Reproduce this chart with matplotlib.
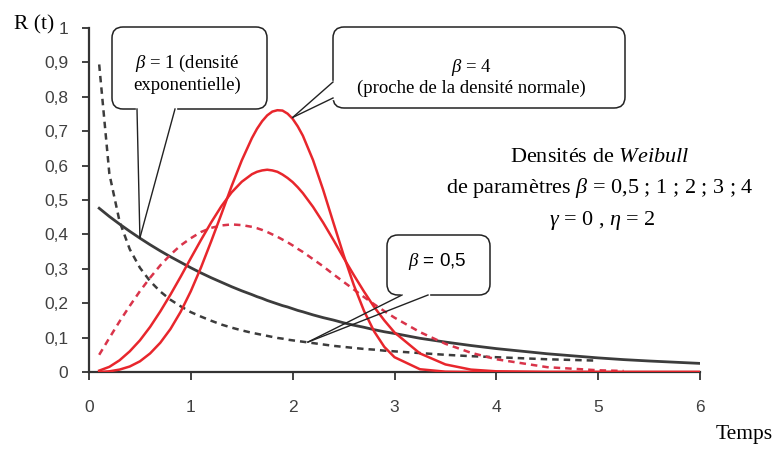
import numpy as np
import matplotlib
matplotlib.use("Agg")
import matplotlib.pyplot as plt
from matplotlib.patches import FancyBboxPatch
from matplotlib.transforms import Affine2D

nan = np.nan

# Time axis (Temps)
t = [0.1, 0.2, 0.3, 0.4, 0.5, 0.6, 0.7, 0.8, 0.9, 1.0,
     1.1, 1.2, 1.3, 1.4, 1.5, 1.6, 1.65, 1.7, 1.75, 1.8, 1.85, 1.9, 1.95, 2.0, 2.05,
     2.1, 2.2, 2.3, 2.4, 2.5, 2.6, 2.7, 2.8, 2.9, 3.0,
     3.25, 3.5, 3.75, 4.0, 4.5, 5.0, 5.25, 5.5, 6.0]

# Weibull densities, gamma = 0, eta = 2
beta_05 = [0.894, 0.576, 0.438, 0.357, 0.303, 0.264, 0.234, 0.210, 0.191, 0.174,
           0.161, 0.149, 0.138, 0.129, 0.121, 0.114, 0.111, 0.108, 0.105, 0.102,
           0.099, 0.097, 0.094, 0.092, 0.090,
           0.088, 0.084, 0.080, 0.076, 0.073, 0.070, 0.067, 0.065, 0.062, 0.060,
           0.055, 0.050, 0.046, 0.043, 0.037, 0.033, nan, nan, nan]
beta_1 = [0.476, 0.452, 0.430, 0.409, 0.389, 0.370, 0.352, 0.335, 0.319, 0.303,
          0.288, 0.274, 0.261, 0.248, 0.236, 0.225, 0.219, 0.214, 0.208, 0.203,
          0.198, 0.193, 0.189, 0.184, 0.179,
          0.175, 0.166, 0.158, 0.151, 0.143, 0.136, 0.130, 0.123, 0.117, 0.112,
          0.098, 0.087, 0.077, 0.068, 0.053, 0.041, 0.036, 0.032, 0.025]
beta_2 = [0.050, 0.099, 0.147, 0.192, 0.235, 0.274, 0.310, 0.341, 0.368, 0.389,
          0.407, 0.419, 0.426, 0.429, 0.427, 0.422, 0.418, 0.413, 0.407, 0.400,
          0.393, 0.385, 0.377, 0.368, 0.358,
          0.349, 0.328, 0.307, 0.284, 0.262, 0.240, 0.218, 0.197, 0.177, 0.158,
          0.116, 0.082, 0.056, 0.037, 0.014, 0.005, 0.003, nan, nan]
beta_3 = [0.004, 0.015, 0.034, 0.060, 0.092, 0.131, 0.176, 0.225, 0.277, 0.331,
          0.384, 0.435, 0.482, 0.522, 0.553, 0.575, 0.582, 0.586, 0.588, 0.586,
          0.582, 0.574, 0.564, 0.552, 0.537,
          0.520, 0.480, 0.434, 0.384, 0.332, 0.282, 0.234, 0.189, 0.150, 0.115,
          0.054, 0.022, 0.007, 0.002, 0.000, 0.000, 0.000, 0.000, 0.000]
beta_4 = [0.000, 0.002, 0.007, 0.016, 0.031, 0.054, 0.085, 0.125, 0.175, 0.235,
          0.304, 0.380, 0.459, 0.540, 0.615, 0.680, 0.707, 0.729, 0.746, 0.757,
          0.761, 0.760, 0.751, 0.736, 0.714,
          0.687, 0.616, 0.529, 0.434, 0.340, 0.253, 0.178, 0.118, 0.073, 0.043,
          0.008, 0.001, 0.000, 0.000, 0.000, 0.000, 0.000, 0.000, 0.000]

x_ticks = [0, 1, 2, 3, 4, 5, 6]
y_ticks = [0, 0.1, 0.2, 0.3, 0.4, 0.5, 0.6, 0.7, 0.8, 0.9, 1]
y_tick_labels = ["0", "0,1", "0,2", "0,3", "0,4", "0,5", "0,6", "0,7", "0,8", "0,9", "1"]

plt.rcParams["mathtext.fontset"] = "custom"
plt.rcParams["mathtext.rm"] = "Liberation Serif"
plt.rcParams["mathtext.it"] = "Liberation Serif:italic"

W, H = 776, 449
fig = plt.figure(figsize=(W / 100, H / 100), dpi=100)
ax = fig.add_axes([89 / W, (H - 372) / H, 611 / W, 344 / H])

RED = "#e8262c"
RED_D = "#d9344a"
DARK = "#3c3c3c"

ax.plot(t, beta_05, color=DARK, lw=1.8, dashes=(2.6, 2.0), zorder=3)
ax.plot(t, beta_1, color=DARK, lw=2.0, zorder=3)
ax.plot(t, beta_2, color=RED_D, lw=1.8, dashes=(2.6, 2.0), zorder=3)
ax.plot(t, beta_3, color=RED, lw=1.8, zorder=4)
ax.plot(t, beta_4, color=RED, lw=1.8, zorder=4)

ax.set_xlim(0, 6)
ax.set_ylim(0, 1)
ax.set_xticks(x_ticks)
ax.set_yticks(y_ticks)
ax.set_yticklabels(y_tick_labels)
for s in ("top", "right"):
    ax.spines[s].set_visible(False)
for s in ("left", "bottom"):
    ax.spines[s].set_linewidth(1.6)
    ax.spines[s].set_color("#333333")
ax.tick_params(axis="x", direction="out", length=6, width=1.3, pad=14,
               color="#333333", labelsize=12.5, labelcolor="#404040")
ax.tick_params(axis="y", direction="out", length=5, width=1.3, pad=10,
               color="#333333", labelsize=12.5, labelcolor="#404040")
for lab in ax.get_xticklabels() + ax.get_yticklabels():
    lab.set_family(["Liberation Sans Narrow", "Liberation Sans", "DejaVu Sans"])

# pixel frame with origin at the top-left corner
px = Affine2D().scale(1, -1).translate(0, H)
serif = ["Liberation Serif", "DejaVu Serif"]

fig.text(14, 25, "R (t)", transform=px, family=serif, fontsize=15.5,
         va="center", ha="left")
fig.text(773, 435, "Temps", transform=px, family=serif, fontsize=15.5,
         va="center", ha="right")


def callout(x0, y0, x1, y1, base_a, base_b, tip_data, lines, fs, family):
    box = FancyBboxPatch((x0, y0), x1 - x0, y1 - y0,
                         boxstyle="round,pad=0,rounding_size=11",
                         transform=px, facecolor="white", edgecolor="#222222",
                         lw=1.1, zorder=8)
    fig.add_artist(box)
    # open the outline where the pointer leaves the box
    fig.add_artist(plt.Line2D([base_a[0], base_b[0]], [base_a[1], base_b[1]],
                              transform=px, color="white", lw=2.4, zorder=9))
    tip_disp = ax.transData.transform(tip_data)
    tip = px.inverted().transform(tip_disp)
    for b in (base_a, base_b):
        fig.add_artist(plt.Line2D([b[0], tip[0]], [b[1], tip[1]], transform=px,
                                  color="#222222", lw=1.0, zorder=10))
    for txt, (tx, ty) in lines:
        fig.text(tx, ty, txt, transform=px, family=family, fontsize=fs,
                 ha="center", va="center", zorder=11)


callout(112, 27, 267, 109, (137, 109), (175, 109), (0.5, 0.39),
        [(r"$\beta$ = 1 (densité", (187, 63)), ("exponentielle)", (187, 85))],
        13.5, serif)
callout(333, 27, 625, 108, (333, 82), (333, 98), (2.0, 0.74),
        [(r"$\beta$ = 4", (471, 67)), ("(proche de la densité normale)", (471, 88))],
        13.5, serif)
callout(387, 235, 490, 295, (402, 295), (428, 295), (2.15, 0.087),
        [(r"$\beta$ = 0,5", (437, 262))],
        13.5, ["Liberation Sans Narrow", "Liberation Sans", "DejaVu Sans"])

fig.text(600, 157, r"Densités de $\mathit{Weibull}$", transform=px,
         family=serif, fontsize=16, ha="center", va="center")
fig.text(600, 188, r"de paramètres $\beta$ = 0,5 ; 1 ; 2 ; 3 ; 4", transform=px,
         family=serif, fontsize=16, ha="center", va="center")
fig.text(602, 221, r"$\gamma$ = 0 , $\eta$ = 2", transform=px,
         family=serif, fontsize=16, ha="center", va="center")

fig.savefig("out.png", dpi=100)
